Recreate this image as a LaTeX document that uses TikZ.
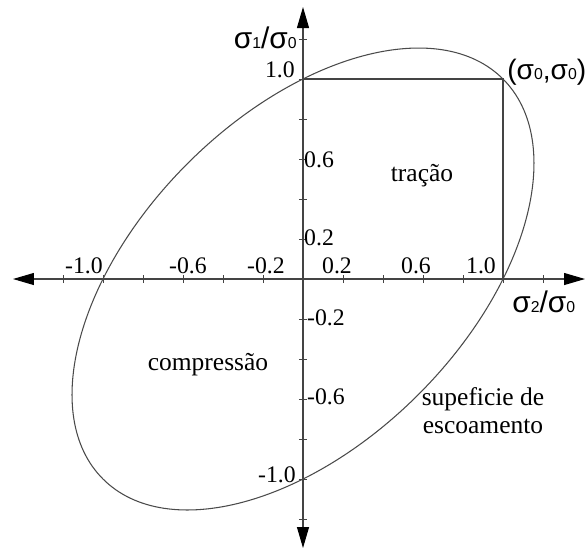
\documentclass[tikz,border=0pt]{standalone}
\usepackage{fontspec}
\setmainfont{Liberation Serif}
\newfontfamily\sigmafont{Liberation Sans}
\usetikzlibrary{arrows.meta}
\definecolor{axisGray}{HTML}{444444}
\definecolor{curveGray}{HTML}{4A4A4A}
\newcommand{\sratio}[1]{{\sigmafont\fontsize{17}{20}\selectfont σ{\fontsize{9}{10}\selectfont #1}/σ{\fontsize{9}{10}\selectfont 0}}}
\newcommand{\numfont}{\fontsize{13.5}{15}\selectfont}

\begin{document}
\begin{tikzpicture}[x=4cm,y=4cm,font=\fontsize{14.5}{16}\selectfont,
    >={Triangle[length=4.2mm,width=2.4mm,color=black]},
    axisline/.style={draw=axisGray,line width=0.6pt},
    ticklab/.style={font=\numfont,inner sep=0.5pt}]
        \useasboundingbox (-1.515,-1.35) rectangle (1.415,1.395);
        \coordinate (o) at (0,0);
        \coordinate (xl) at (-1.45,0);
        \coordinate (xr) at (1.41,0);
        \coordinate (yb) at (0,-1.345);
        \coordinate (yt) at (0,1.36);
        \coordinate (p10) at (1,0);
        \coordinate (p11) at (1,1);
        \coordinate (p01) at (0,1);
        % axes and ticks
        \draw[axisline,<->] (xl) -- (xr);
        \draw[axisline,<->] (yb) -- (yt);
        \foreach \t in {-1.2,-1.0,...,1.21}{
          \draw[axisline,line width=0.4pt] (\t,-0.02) -- (\t,0.02);
          \draw[axisline,line width=0.4pt] (-0.02,\t) -- (0.02,\t);
        }
        % yield surface and first quadrant box
        \draw[curveGray,line width=0.6pt,rotate=45] (o) ellipse ({sqrt(2)} and {sqrt(2/3)});
        \draw[axisline] (p01) -- (p11) -- (p10);
        % labels on the axes
        \foreach \v/\x in {-1.0/-1.095,-0.6/-0.575,-0.2/-0.185,0.2/0.17,0.6/0.565,1.0/0.89}{
          \node[ticklab,anchor=base] at (\x,0.03) {\v};
        }
        \node[ticklab,anchor=west] (y06) at (0,0.595) {0.6};
        \node[ticklab,anchor=west] (y02) at (0,0.205) {0.2};
        \node[ticklab,anchor=west] (ym02) at (0.015,-0.195) {-0.2};
        \node[ticklab,anchor=west] (ym06) at (0.015,-0.59) {-0.6};
        \node[ticklab,anchor=base east] (y10) at (-0.035,1.01) {1.0};
        \node[ticklab,anchor=base east] (ym10) at (-0.03,-1.015) {-1.0};
        \node[anchor=east,inner sep=0pt] (ylab) at (-0.03,1.205) {\sratio{1}};
        \node[anchor=west,inner sep=0pt] (xlab) at (1.045,-0.115) {\sratio{2}};
        \node[anchor=west,inner sep=0pt] (corner) at (1.02,1.035)
             {\sigmafont\fontsize{16}{19}\selectfont (σ{\fontsize{9}{10}\selectfont 0},σ{\fontsize{9}{10}\selectfont 0})};
        % regions
        \node (trac) at (0.595,0.515) {tração};
        \node (comp) at (-0.475,-0.43) {compressão};
        \node[align=center] (surf) at (0.9,-0.66) {supeficie de\\escoamento};
      \end{tikzpicture}
\end{document}
